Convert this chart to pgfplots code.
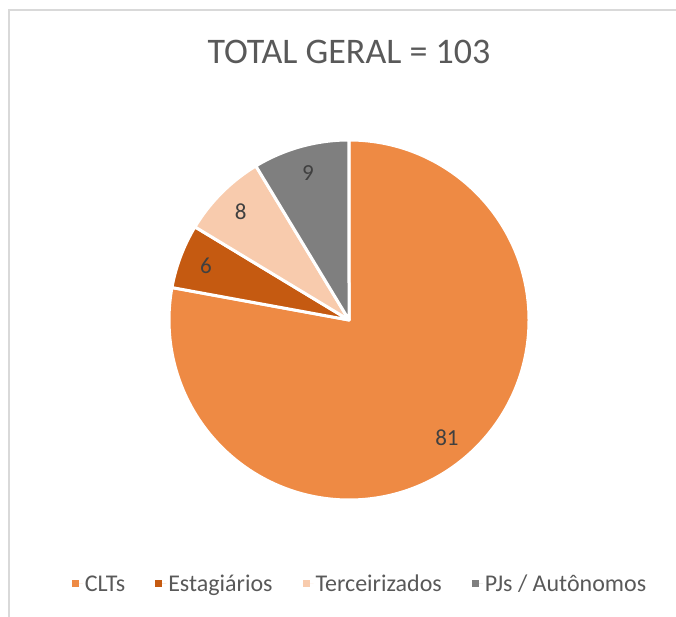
\documentclass[border=0pt]{standalone}
\usepackage{fontspec}
\setmainfont{Carlito}
\usepackage{pgfplots}
\usepackage{pgfplotstable}
\pgfplotsset{compat=1.18}
\definecolor{cA}{HTML}{EE8A44}
\definecolor{cB}{HTML}{C55A11}
\definecolor{cC}{HTML}{F8CBAD}
\definecolor{cD}{HTML}{7F7F7F}
\definecolor{txt}{HTML}{595959}
\definecolor{lbl}{HTML}{404040}
\definecolor{brd}{HTML}{D9D9D9}

\pgfplotstableread{
label value
CLTs 81
Estagiarios 6
Terceirizados 8
PJs 9
}\piedata

\begin{document}%
\begin{tikzpicture}
\pgfplotstablegetelem{0}{value}\of\piedata\xdef\vA{\pgfplotsretval}
\pgfplotstablegetelem{1}{value}\of\piedata\xdef\vB{\pgfplotsretval}
\pgfplotstablegetelem{2}{value}\of\piedata\xdef\vC{\pgfplotsretval}
\pgfplotstablegetelem{3}{value}\of\piedata\xdef\vD{\pgfplotsretval}
\pgfmathsetmacro{\tot}{\vA+\vB+\vC+\vD}
\pgfmathsetmacro{\aA}{90}
\pgfmathsetmacro{\aB}{\aA-360*(\vA/\tot)}
\pgfmathsetmacro{\aC}{\aB-360*(\vB/\tot)}
\pgfmathsetmacro{\aD}{\aC-360*(\vC/\tot)}
\pgfmathsetmacro{\aE}{\aD-360*(\vD/\tot)}
\pgfmathsetmacro{\mA}{(\aA+\aB)/2}
\pgfmathsetmacro{\mB}{(\aB+\aC)/2}
\pgfmathsetmacro{\mC}{(\aC+\aD)/2}
\pgfmathsetmacro{\mD}{(\aD+\aE)/2}
\begin{axis}[
  width=676pt, height=617pt, scale only axis,
  xmin=0, xmax=676, ymin=0, ymax=617,
  hide axis, clip=false,
  legend image code/.code={\fill[#1] (0pt,-3.5pt) rectangle (7pt,3.5pt); \path (0pt,0pt) -- (11pt,0pt);},
  legend columns=-1,
  legend style={at={(axis cs:360,33)}, anchor=center, draw=none, fill=none,
    font=\fontsize{24}{29}\selectfont, text=txt,
    /tikz/every even column/.append style={column sep=28pt}},
]
\coordinate (LL) at (axis cs:0,0);
\coordinate (UR) at (axis cs:676,617);
\draw[brd, line width=1.5pt] (axis cs:9,0) -- (axis cs:9,607) -- (axis cs:676,607);
\node[txt, font=\fontsize{36}{43}\selectfont] at (axis cs:349,565) {TOTAL GERAL = 103};

\fill[cA, draw=white, line width=3pt, line join=round] (axis cs:349,297) -- ++(\aA:180pt) arc[start angle=\aA, end angle=\aB, radius=180pt] -- cycle;
\fill[cB, draw=white, line width=3pt, line join=round] (axis cs:349,297) -- ++(\aB:180pt) arc[start angle=\aB, end angle=\aC, radius=180pt] -- cycle;
\fill[cC, draw=white, line width=3pt, line join=round] (axis cs:349,297) -- ++(\aC:180pt) arc[start angle=\aC, end angle=\aD, radius=180pt] -- cycle;
\fill[cD, draw=white, line width=3pt, line join=round] (axis cs:349,297) -- ++(\aD:180pt) arc[start angle=\aD, end angle=\aE, radius=180pt] -- cycle;

\path (axis cs:349,297) ++(\mA:153pt) node[lbl, font=\fontsize{23}{28}\selectfont] {\vA};
\path (axis cs:349,297) ++(\mB:153pt) node[lbl, font=\fontsize{23}{28}\selectfont] {\vB};
\path (axis cs:349,297) ++(\mC:153pt) node[lbl, font=\fontsize{23}{28}\selectfont] {\vC};
\path (axis cs:349,297) ++(\mD:153pt) node[lbl, font=\fontsize{23}{28}\selectfont] {\vD};

\addlegendimage{fill=cA, draw=none}
\addlegendentry{CLTs}
\addlegendimage{fill=cB, draw=none}
\addlegendentry{Estagiários}
\addlegendimage{fill=cC, draw=none}
\addlegendentry{Terceirizados}
\addlegendimage{fill=cD, draw=none}
\addlegendentry{PJs / Autônomos}
\end{axis}
\pgfresetboundingbox
\path (LL) rectangle (UR);
\end{tikzpicture}%
\end{document}
